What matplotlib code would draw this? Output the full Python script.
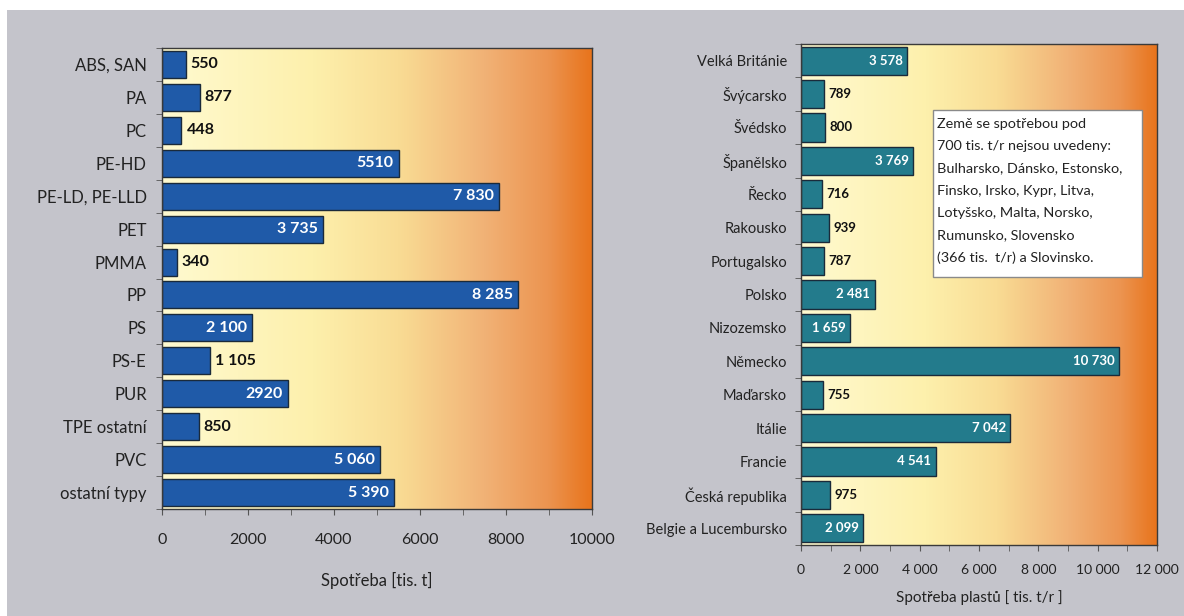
import numpy as np
import matplotlib
matplotlib.use("Agg")
import matplotlib.pyplot as plt
from matplotlib.colors import LinearSegmentedColormap
from matplotlib.patches import Rectangle
from matplotlib.ticker import MultipleLocator, FuncFormatter, FixedLocator

plt.rcParams['font.family'] = ['Lato', 'DejaVu Sans']

# ---- data ----
plastic_types = ["ABS, SAN", "PA", "PC", "PE-HD", "PE-LD, PE-LLD", "PET", "PMMA",
                 "PP", "PS", "PS-E", "PUR", "TPE ostatní", "PVC", "ostatní typy"]
plastic_values = [550, 877, 448, 5510, 7830, 3735, 340, 8285, 2100, 1105, 2920, 850, 5060, 5390]
plastic_labels = ["550", "877", "448", "5510", "7 830", "3 735", "340", "8 285", "2 100",
                  "1 105", "2920", "850", "5 060", "5 390"]

countries = ["Velká Británie", "Švýcarsko", "Švédsko", "Španělsko", "Řecko", "Rakousko",
             "Portugalsko", "Polsko", "Nizozemsko", "Německo", "Maďarsko", "Itálie",
             "Francie", "Česká republika", "Belgie a Lucembursko"]
country_values = [3578, 789, 800, 3769, 716, 939, 787, 2481, 1659, 10730, 755, 7042,
                  4541, 975, 2099]
country_labels = ["3 578", "789", "800", "3 769", "716", "939", "787", "2 481", "1 659",
                  "10 730", "755", "7 042", "4 541", "975", "2 099"]

note_text = ("Země se spotřebou pod\n700 tis. t/r nejsou uvedeny:\n"
             "Bulharsko, Dánsko, Estonsko,\nFinsko, Irsko, Kypr, Litva,\n"
             "Lotyšsko, Malta, Norsko,\nRumunsko, Slovensko\n(366 tis.  t/r) a Slovinsko.")

W, H = 1184, 616
fig = plt.figure(figsize=(W / 100, H / 100), dpi=100, facecolor="white")
fig.patches.append(Rectangle((7 / W, 0), 1 - 7 / W, 1 - 10 / H, transform=fig.transFigure,
                             facecolor="#c4c4cb", edgecolor="none", zorder=-10))

grad = LinearSegmentedColormap.from_list("g", [
    (0.0, "#fffad0"), (0.35, "#fdf0ac"), (0.55, "#f9dc94"), (0.75, "#f1b276"),
    (0.9, "#ec9450"), (1.0, "#e8741c")])


def panel(rect, cats, vals, labels, xmax, color, lab_fs, lab_pad, tick_fs, tick_pad, val_fs,
          xlabel, xl_fs, xl_pad, thick, fmt, inside_min):
    ax = fig.add_axes(rect)
    n = len(cats)
    y = np.arange(n)
    ax.set_xlim(0, xmax)
    ax.set_ylim(n - 0.5, -0.5)
    ax.imshow(np.linspace(0, 1, 256)[None, :], cmap=grad, aspect="auto",
              extent=[0, xmax, n - 0.5, -0.5], zorder=0)
    ax.barh(y, vals, height=thick, color=color, edgecolor="#1a2a3a", linewidth=1.0, zorder=2)
    for yi, v, s in zip(y, vals, labels):
        if v >= inside_min:
            ax.text(v - xmax * 0.012, yi, s, color="white", fontweight="bold",
                    ha="right", va="center", fontsize=val_fs, zorder=3)
        else:
            ax.text(v + xmax * 0.012, yi, s, color="#111111", fontweight="bold",
                    ha="left", va="center", fontsize=val_fs, zorder=3)
    ax.set_yticks(y)
    ax.set_yticklabels(cats, fontsize=lab_fs, color="#222222")
    ax.yaxis.set_minor_locator(FixedLocator(np.arange(n + 1) - 0.5))
    ax.tick_params(axis="y", which="major", length=0, pad=lab_pad)
    ax.tick_params(axis="y", which="minor", length=4, color="#555555", direction="out")
    ax.xaxis.set_major_locator(MultipleLocator(2000))
    ax.xaxis.set_minor_locator(MultipleLocator(1000))
    ax.xaxis.set_major_formatter(FuncFormatter(fmt))
    ax.tick_params(axis="x", which="both", length=4, color="#555555", labelsize=tick_fs,
                   labelcolor="#222222", pad=tick_pad)
    for sp in ax.spines.values():
        sp.set_color("#3a3a3a")
        sp.set_linewidth(1.0)
    ax.set_xlabel(xlabel, fontsize=xl_fs, color="#222222", labelpad=xl_pad)
    return ax


ax1 = panel([162 / W, 1 - 509 / H, (592 - 162) / W, (509 - 48) / H], plastic_types,
            plastic_values, plastic_labels, 10000, "#1f5aa8", 12, 11, 11.5, 13, 11.5,
            "Spotřeba [tis. t]", 12, 18, 0.82, lambda v, p: f"{int(v)}", 2000)

ax2 = panel([801 / W, 1 - 545 / H, (1157 - 801) / W, (545 - 44) / H], countries,
            country_values, country_labels, 12000, "#237b8c", 10.5, 10, 10, 10, 9.5,
            "Spotřeba plastů [ tis. t/r ]", 11, 10, 0.84,
            lambda v, p: f"{int(v):,}".replace(",", " "), 1500)

# note box
bx0, by1 = (933 - 801) / 356, (545 - 110) / 501
bx1, by0 = (1142 - 801) / 356, (545 - 277) / 501
ax2.add_patch(Rectangle((bx0, by0), bx1 - bx0, by1 - by0, transform=ax2.transAxes,
                        facecolor="white", edgecolor="#8a8a8a", linewidth=1.0, zorder=4))
ax2.text(bx0 + 0.01, by1 - 0.016, note_text, transform=ax2.transAxes, ha="left", va="top",
         fontsize=10.4, color="#222222", linespacing=2.02, zorder=5)

fig.savefig("out.png", dpi=100, facecolor=fig.get_facecolor())
